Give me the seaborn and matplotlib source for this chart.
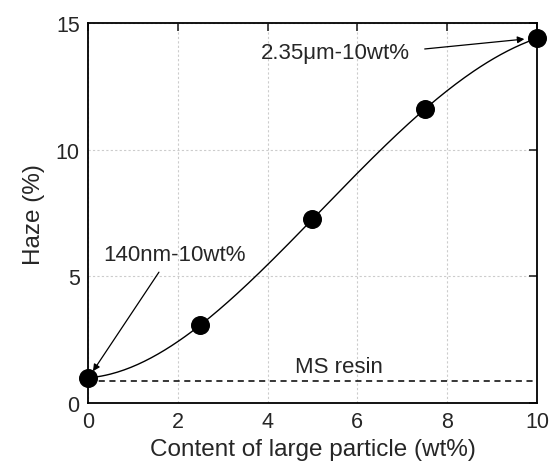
import numpy as np
import pandas as pd
import seaborn as sns
import matplotlib
matplotlib.use("Agg")
import matplotlib.pyplot as plt

# data
content = [0, 2.5, 5, 7.5, 10]
haze = [1.0, 3.08, 7.26, 11.6, 14.4]
ms_resin = 0.87
x_ticks = [0, 2, 4, 6, 8, 10]
y_ticks = [0, 5, 10, 15]

sns.set_style("white")
plt.rcParams["font.family"] = ["Liberation Sans", "DejaVu Sans"]

df = pd.DataFrame({"content": content, "haze": haze})

# smooth curve through the points
coef = np.polyfit(content, haze, 4)
xs = np.linspace(0, 10, 200)
curve = pd.DataFrame({"content": xs, "haze": np.polyval(coef, xs)})

fig = plt.figure(figsize=(5.57, 4.64), dpi=100)
ax = fig.add_axes([0.158, 0.129, 0.806, 0.819])

ax.grid(True, color="#cccccc", linestyle=(0, (2, 2)), linewidth=0.8)
sns.lineplot(data=curve, x="content", y="haze", ax=ax, color="black", linewidth=1.0)
sns.scatterplot(data=df, x="content", y="haze", ax=ax, color="black", s=160,
                edgecolor="black", zorder=5, clip_on=False)
ax.axhline(ms_resin, color="black", linestyle=(0, (4, 3)), linewidth=1.1)

ax.set_xlim(0, 10)
ax.set_ylim(0, 15)
ax.set_xticks(x_ticks)
ax.set_yticks(y_ticks)
ax.tick_params(direction="in", length=6, width=1.2, top=True, right=True,
               labelsize=15.5, pad=6)
for s in ax.spines.values():
    s.set_linewidth(1.3)
    s.set_color("black")

ax.set_xlabel("Content of large particle (wt%)", fontsize=17.5, labelpad=4)
ax.set_ylabel("Haze (%)", fontsize=17.5, labelpad=8)

ax.text(4.6, 1.46, "MS resin", fontsize=16, va="center")
ax.text(7.17, 13.86, "2.35\u03bcm-10wt%", fontsize=16, ha="right", va="center")
ax.annotate("", xy=(9.72, 14.37), xytext=(7.5, 13.98),
            arrowprops=dict(arrowstyle="-|>", color="black", lw=0.9,
                            shrinkA=0, shrinkB=0))
ax.text(0.33, 5.85, "140nm-10wt%", fontsize=16, ha="left", va="center")
ax.annotate("", xy=(0.11, 1.26), xytext=(1.58, 5.17),
            arrowprops=dict(arrowstyle="-|>", color="black", lw=0.9,
                            shrinkA=0, shrinkB=0))

fig.savefig("out.png", dpi=100)
